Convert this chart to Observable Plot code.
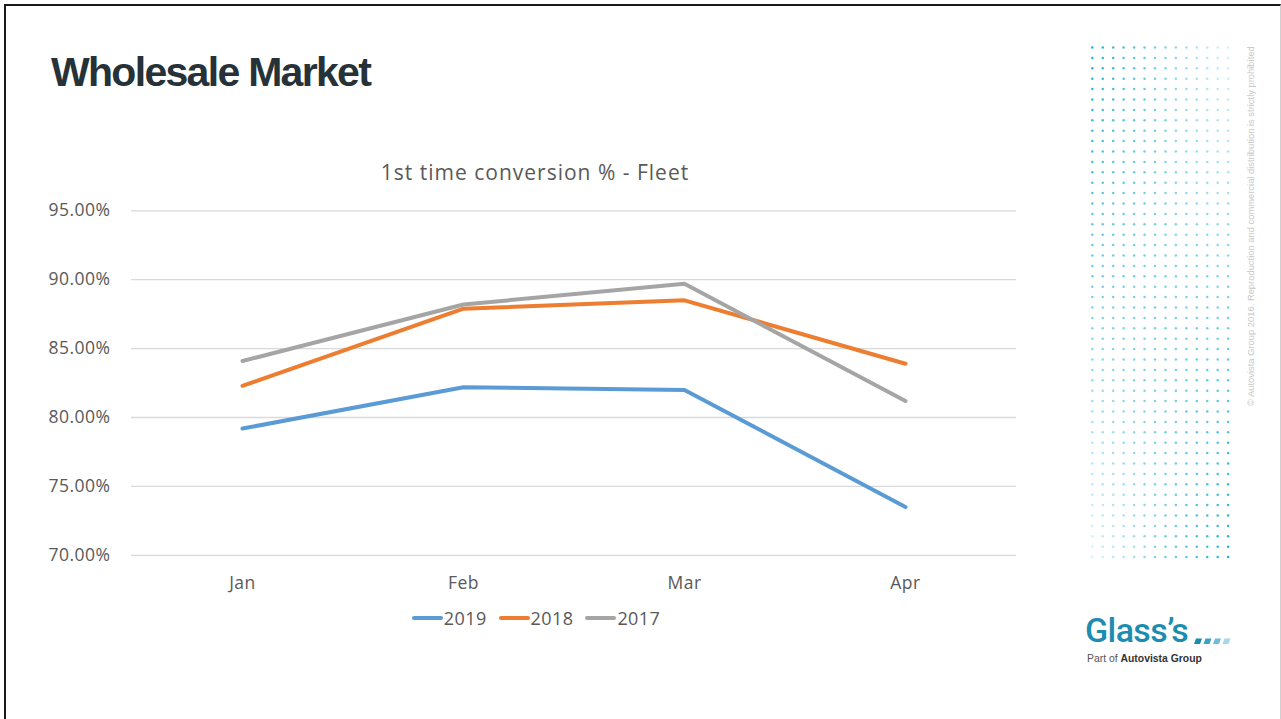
<!DOCTYPE html>
<html>
<head>
<meta charset="utf-8">
<script src="https://cdn.jsdelivr.net/npm/d3@7"></script>
<script src="https://cdn.jsdelivr.net/npm/@observablehq/plot@0.6"></script>
<style>
  html, body { margin: 0; padding: 0; background: #fff; }
  body { width: 1281px; height: 719px; position: relative; overflow: hidden; font-family: "Open Sans", sans-serif; }
  #frame { position: absolute; left: 4px; top: 4px; right: 0; bottom: -4px; border-left: 2px solid #1a1a1a; border-top: 2px solid #1a1a1a; border-right: 1px solid #d0d0d0; }
  #title { position: absolute; left: 51px; top: 52px; font-family: "Liberation Sans", Arial, sans-serif; font-weight: bold; font-size: 41px; letter-spacing: -1.7px; color: #263238; line-height: 1; white-space: nowrap; }
  #ctitle { position: absolute; left: 0; width: 1070px; top: 158px; text-align: center; font-size: 21px; letter-spacing: 1px; color: #595959; white-space: nowrap; }
  #chart { position: absolute; left: 0; top: 150px; }
  #legend { position: absolute; left: 0; width: 1072px; top: 606px; display: flex; justify-content: center; align-items: center; font-size: 18px; letter-spacing: 0.4px; color: #595959; }
  #legend .item { display: flex; align-items: center; margin: 0 6px; }
  #legend svg { margin-right: 1px; }
  #deco { position: absolute; left: 0; top: 0; }
  #copy { position: absolute; left: 1245px; top: 406px; transform-origin: 0 0; transform: rotate(-90deg); font-family: "Liberation Sans", Arial, sans-serif; font-size: 9.4px; color: #c8c8c8; white-space: nowrap; }
  #logo { position: absolute; left: 1085px; top: 613px; }
  #logo .g { font-family: Roboto, sans-serif; font-weight: 500; font-size: 34px; color: #1c8db0; letter-spacing: -0.6px; line-height: 1; }
  #logo .p { font-family: "Liberation Sans", Arial, sans-serif; font-size: 10.4px; color: #555; margin-top: 6px; margin-left: 2px; white-space: nowrap; }
  #logo .p b { color: #333; }
</style>
</head>
<body>
<div id="frame"></div>
<div id="title">Wholesale Market</div>
<div id="ctitle">1st time conversion % - Fleet</div>
<div id="chart"></div>
<div id="legend"></div>
<svg id="deco" width="1281" height="719"></svg>
<div id="copy">© Autovista Group 2016. Reproduction and commercial distribution is strictly prohibited</div>
<div id="logo"><div class="g">Glass’s</div><div class="p">Part of <b>Autovista Group</b></div></div>
<script>
// ---- data ----
const months = ["Jan", "Feb", "Mar", "Apr"];
const series = ["2019", "2018", "2017"];
const values2019 = [0.792, 0.822, 0.820, 0.735];
const values2018 = [0.823, 0.879, 0.885, 0.839];
const values2017 = [0.841, 0.882, 0.897, 0.812];
const colors = ["#5b9bd5", "#ed7d31", "#a5a5a5"];
const yTicks = [0.70, 0.75, 0.80, 0.85, 0.90, 0.95];

const valuesBySeries = { "2019": values2019, "2018": values2018, "2017": values2017 };
const rows = [];
for (const s of series) {
  months.forEach((m, i) => rows.push({ series: s, month: m, value: valuesBySeries[s][i] }));
}

const plot = Plot.plot({
  width: 1060,
  height: 490,
  marginLeft: 131,
  marginRight: 44,
  marginTop: 60.3,
  marginBottom: 85.2,
  style: { fontFamily: "Open Sans, sans-serif", fontSize: "17.5px", letterSpacing: "0.5px", color: "#595959", background: "transparent" },
  x: { type: "point", domain: months, padding: 0.5, label: null },
  y: { domain: [0.70, 0.95], label: null },
  color: { domain: series, range: colors },
  marks: [
    Plot.gridY(yTicks, { stroke: "#d9d9d9", strokeOpacity: 1, strokeWidth: 1.3 }),
    Plot.axisY(yTicks, { tickSize: 0, tickPadding: 21, tickFormat: d3.format(".2%"), label: null }),
    Plot.axisX(months, { tickSize: 0, tickPadding: 21, label: null }),
    Plot.line(rows, { x: "month", y: "value", stroke: "series", z: "series", strokeWidth: 4, strokeLinecap: "round", strokeLinejoin: "round" })
  ]
});
document.getElementById("chart").appendChild(plot);

// legend (line swatches)
const legend = document.getElementById("legend");
series.forEach((s, i) => {
  const item = document.createElement("div");
  item.className = "item";
  item.innerHTML = `<svg width="31" height="8"><line x1="2" y1="4" x2="29" y2="4" stroke="${colors[i]}" stroke-width="4" stroke-linecap="round"/></svg><span>${s}</span>`;
  legend.appendChild(item);
});

// decorative dot grid and logo dashes
const deco = d3.select("#deco");
const cols = 14, rowsN = 50;
for (let r = 0; r < rowsN; r++) {
  for (let c = 0; c < cols; c++) {
    const t = r / (rowsN - 1), u = c / (cols - 1);
    const a = 0.18 + 0.82 * ((1 - t) * (1 - u) + t * u);
    deco.append("circle")
      .attr("cx", 1092.3 + c * 10.45)
      .attr("cy", 47.5 + r * 10.4)
      .attr("r", 1.25)
      .attr("fill", "#1fb2cf")
      .attr("fill-opacity", a);
  }
}
const dashCols = ["#1c8db0", "#3aa3c4", "#6dbdd6", "#a6d8e8"];
dashCols.forEach((col, i) => {
  const x = 1194 + i * 9.5;
  deco.append("path")
    .attr("d", `M${x + 2},638.5 L${x + 8},638.5 L${x + 6},644 L${x},644 Z`)
    .attr("fill", col);
});
</script>
</body>
</html>
